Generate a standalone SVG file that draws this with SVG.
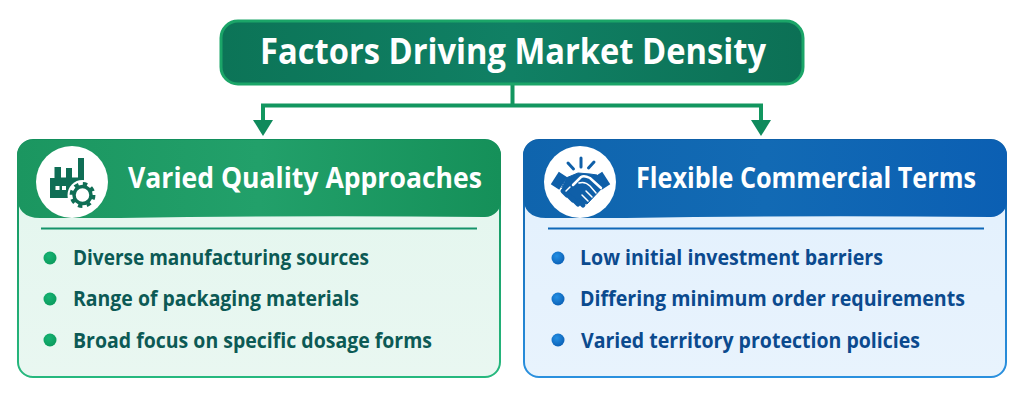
<svg xmlns="http://www.w3.org/2000/svg" width="1024" height="409" viewBox="0 0 1024 409">
<style>
text{font-family:"Open Sans","Noto Sans","Liberation Sans",sans-serif;font-weight:700}
.title{font-size:35px;fill:#fff}
.head{font-size:28px;fill:#fff}
.gi{font-size:20.500px;fill:#0c5a55}
.bi{font-size:20.500px;fill:#0b4a8e}
.conn{fill:none;stroke:#12965f;stroke-width:4}
</style>
<defs>
<linearGradient id="tg" x1="0" x2="1" y1="0" y2="0"><stop offset="0" stop-color="#0c7457"/><stop offset=".5" stop-color="#108064"/><stop offset="1" stop-color="#0c7055"/></linearGradient>
<linearGradient id="gh" x1="0" x2="1" y1="0" y2="0"><stop offset="0" stop-color="#1b9660"/><stop offset=".5" stop-color="#22a06a"/><stop offset="1" stop-color="#159059"/></linearGradient>
<linearGradient id="bh" x1="0" x2="1" y1="0" y2="0"><stop offset="0" stop-color="#0f64ad"/><stop offset=".5" stop-color="#126ab4"/><stop offset="1" stop-color="#0b5fb3"/></linearGradient>
<linearGradient id="gs" x1="0" x2="0" y1="0" y2="1"><stop offset="0" stop-color="#128f5c"/><stop offset="1" stop-color="#26b87e"/></linearGradient>
<linearGradient id="bs" x1="0" x2="0" y1="0" y2="1"><stop offset="0" stop-color="#0d5fa8"/><stop offset="1" stop-color="#2a90de"/></linearGradient>
<linearGradient id="gb" x1="0" x2="0" y1="0" y2="1"><stop offset="0" stop-color="#e3f6ee"/><stop offset="1" stop-color="#e9f7f1"/></linearGradient>
<linearGradient id="bb" x1="0" x2="0" y1="0" y2="1"><stop offset="0" stop-color="#e2f0fd"/><stop offset="1" stop-color="#e8f3fd"/></linearGradient>
<radialGradient id="gd" cx=".4" cy=".35" r=".7"><stop offset="0" stop-color="#16b474"/><stop offset="1" stop-color="#0b9a5c"/></radialGradient>
<radialGradient id="bd" cx=".4" cy=".35" r=".7"><stop offset="0" stop-color="#2490e4"/><stop offset="1" stop-color="#0a5eb4"/></radialGradient>
</defs>
<rect width="1024" height="409" fill="#fff"/>
<g id="connectors">
<path class="conn" d="M512.500 84V105.500M263 123V105.500H761V123"/>
<polygon points="253,120 273,120 263,136" fill="#0f8a5c"/>
<polygon points="751,120 771,120 761,136" fill="#0f8a5c"/>
</g>
<g id="title">
<rect x="221" y="21" width="582" height="63" rx="17" fill="url(#tg)" stroke="#1ba568" stroke-width="3"/>
<text class="title" x="260" y="64" textLength="506" lengthAdjust="spacingAndGlyphs">Factors Driving Market Density</text>
</g>
<g id="panel-quality">
<rect x="18" y="140" width="482" height="237" rx="15" fill="url(#gb)" stroke="url(#gs)" stroke-width="2"/>
<path d="M17 156a16 16 0 0 1 16-16H485a16 16 0 0 1 16 16V201a16 16 0 0 1-16 16Q300 215 120 218H40Q17 218 17 195Z" fill="url(#gh)"/>
<circle cx="72" cy="182" r="36" fill="#fff"/>
<g fill="#0f6e55">
<path d="M50 198V178H54.500V167H61V177.500H66V168H72V177.500H78V158H84V183H86V198Z"/>
<rect x="55.500" y="186" width="4" height="4" fill="#fff"/><rect x="62" y="186" width="4" height="4" fill="#fff"/>
<circle cx="82.500" cy="195" r="15" fill="#fff"/>
<circle cx="82.500" cy="195" r="8.500" fill="none" stroke="#0f6e55" stroke-width="3.500"/>
<circle cx="82.500" cy="195" r="11.200" fill="none" stroke="#0f6e55" stroke-width="3.500" stroke-dasharray="4.400 4.400"/>
</g>
<text class="head" x="128" y="188" textLength="354" lengthAdjust="spacingAndGlyphs">Varied Quality Approaches</text>
<rect x="41" y="227.500" width="436" height="2" fill="#15936a"/>
<circle cx="50" cy="258" r="6.500" fill="url(#gd)"/>
<circle cx="50" cy="299" r="6.500" fill="url(#gd)"/>
<circle cx="50" cy="340" r="6.500" fill="url(#gd)"/>
<text class="gi" x="73" y="265" textLength="296" lengthAdjust="spacingAndGlyphs">Diverse manufacturing sources</text>
<text class="gi" x="73" y="306" textLength="286" lengthAdjust="spacingAndGlyphs">Range of packaging materials</text>
<text class="gi" x="73" y="348" textLength="359" lengthAdjust="spacingAndGlyphs">Broad focus on specific dosage forms</text>
</g>
<g id="panel-terms">
<rect x="524" y="140" width="482" height="237" rx="15" fill="url(#bb)" stroke="url(#bs)" stroke-width="2"/>
<path d="M523 156a16 16 0 0 1 16-16H991a16 16 0 0 1 16 16V201a16 16 0 0 1-16 16Q800 215 626 218H546Q523 218 523 195Z" fill="url(#bh)"/>
<circle cx="580" cy="182" r="36" fill="#fff"/>
<g fill="none" stroke="#0f5fa8" stroke-linecap="round">
<path d="M568 163L573.500 169M581 158V167M594 162L588.500 168" stroke-width="3"/>
<path d="M563 174.500L555 187" stroke-width="10" stroke-linecap="butt"/>
<path d="M598 174.500L606 187" stroke-width="10" stroke-linecap="butt"/>
<path d="M566 178L578 173L590 174L597 175L603 187L587 204L577 201L562 188Z" fill="#0f5fa8" stroke-width="1" stroke-linejoin="round"/>
<path d="M573 185L581 177Q584 175 590 178L601 188" stroke="#fff" stroke-width="2.500"/>
<path d="M579 183Q585 181 590 186L596 193" stroke="#fff" stroke-width="1.500"/>
<path d="M563 191L567 195M568 195L573 200M573 199L578 204M579 201L583 205" stroke-width="5"/>
<path d="M566 191L570 187M592 197L586 191M588 201L582 195" stroke="#fff" stroke-width="1.500"/>
</g>
<text class="head" x="636" y="188" textLength="340" lengthAdjust="spacingAndGlyphs">Flexible Commercial Terms</text>
<rect x="548" y="227.500" width="436" height="2" fill="#0f68b8"/>
<circle cx="558" cy="258" r="6.500" fill="url(#bd)"/>
<circle cx="558" cy="299" r="6.500" fill="url(#bd)"/>
<circle cx="558" cy="340" r="6.500" fill="url(#bd)"/>
<text class="bi" x="580" y="265" textLength="303" lengthAdjust="spacingAndGlyphs">Low initial investment barriers</text>
<text class="bi" x="580" y="306" textLength="385" lengthAdjust="spacingAndGlyphs">Differing minimum order requirements</text>
<text class="bi" x="581" y="348" textLength="339" lengthAdjust="spacingAndGlyphs">Varied territory protection policies</text>
</g>
</svg>
